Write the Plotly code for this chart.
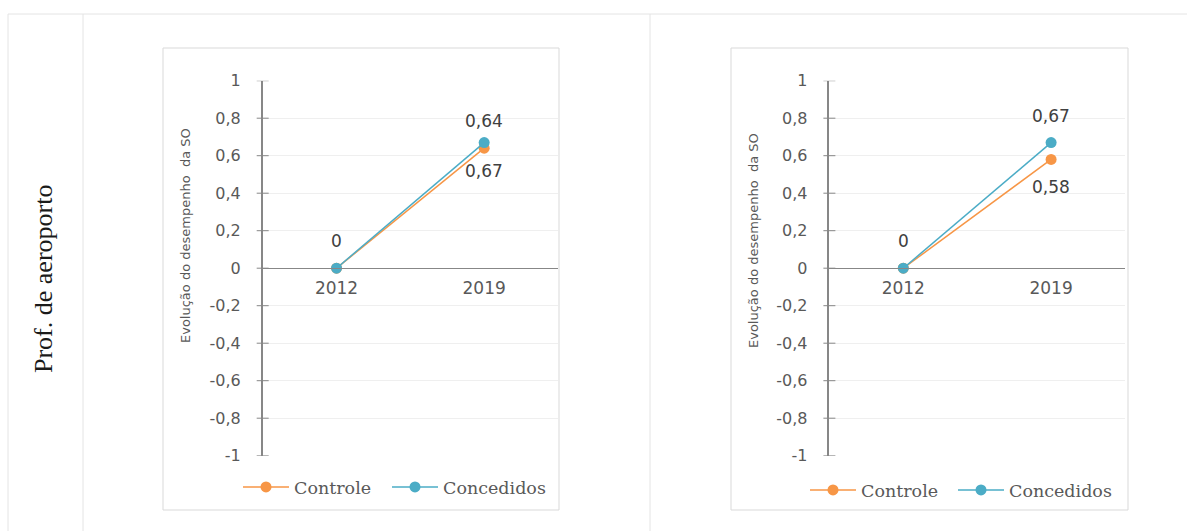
import plotly.graph_objects as go

W, H = 1187, 531

# ---- data -------------------------------------------------------------
years = ["2012", "2019"]
controle_left = [0, 0.64]
concedidos_left = [0, 0.67]
controle_right = [0, 0.58]
concedidos_right = [0, 0.67]

y_tick_values = [1, 0.8, 0.6, 0.4, 0.2, 0, -0.2, -0.4, -0.6, -0.8, -1]
y_tick_labels = ["1", "0,8", "0,6", "0,4", "0,2", "0", "-0,2", "-0,4", "-0,6", "-0,8", "-1"]

series_names = ["Controle", "Concedidos"]
row_label = "Prof. de aeroporto"
y_title = "Evolução do desempenho  da SO"

# ---- styling ----------------------------------------------------------
ORANGE = "#F79646"
BLUE = "#4BACC6"
AXIS_GREY = "#878787"
GRID_GREY = "#efefef"
TABLE_GREY = "#e4e4e4"
BOX_GREY = "#d9d9d9"
TICK_FONT = dict(family="DejaVu Sans", size=16, color="#595959")
LABEL_FONT = dict(family="DejaVu Sans", size=17, color="#404040")
LEGEND_FONT = dict(family="DejaVu Serif", size=17.5, color="#595959")


def px_x(v):
    return v / W


def px_y(v):
    return 1 - v / H


def fmt(v):
    return "0" if v == 0 else f"{v:.2f}".replace(".", ",")


# pixel geometry of the two panels
panels = [
    dict(box=(163, 48, 559, 510), x0=262.7, x1=558.0, ytop=80.7, ybot=455.7,
         title_x=185, title_y=236, legend_x=(238, 387), legend_y=487,
         values=(controle_left, concedidos_left),
         above=0, above_pts=[True, True], below_pts=[False, True]),
    dict(box=(731, 48, 1128, 510), x0=829.4, x1=1125.0, ytop=80.7, ybot=455.7,
         title_x=753, title_y=241, legend_x=(805, 953), legend_y=490,
         values=(controle_right, concedidos_right),
         above=1, above_pts=[True, True], below_pts=[False, True]),
]
colors = (ORANGE, BLUE)

fig = go.Figure()
shapes = []
annotations = []

# table grid lines
shapes.append(dict(type="line", xref="paper", yref="paper",
                   x0=px_x(8), x1=1, y0=px_y(14), y1=px_y(14),
                   line=dict(color=TABLE_GREY, width=1)))
for vx in (8, 83, 650):
    shapes.append(dict(type="line", xref="paper", yref="paper",
                       x0=px_x(vx), x1=px_x(vx), y0=px_y(14), y1=0,
                       line=dict(color=TABLE_GREY, width=1)))

annotations.append(dict(xref="paper", yref="paper", x=px_x(43), y=px_y(279),
                        xanchor="center", yanchor="middle",
                        text=row_label, textangle=-90, showarrow=False,
                        font=dict(family="Liberation Serif", size=26, color="#1a1a1a")))

legend_count = 0
for i, p in enumerate(panels):
    sfx = "" if i == 0 else str(i + 1)
    xa, ya = "x" + sfx, "y" + sfx

    # chart frame
    bx0, by0, bx1, by1 = p["box"]
    shapes.append(dict(type="rect", xref="paper", yref="paper",
                       x0=px_x(bx0), x1=px_x(bx1), y0=px_y(by1), y1=px_y(by0),
                       line=dict(color=BOX_GREY, width=1), fillcolor="white", layer="below"))

    ydom = [px_y(p["ybot"]), px_y(p["ytop"])]
    fig.update_layout(**{
        "xaxis" + sfx: dict(domain=[px_x(p["x0"]), px_x(p["x1"])], type="category",
                            range=[-0.5, 1.5], anchor="free", position=sum(ydom) / 2,
                            showline=True, linecolor=AXIS_GREY, linewidth=1,
                            ticks="", showgrid=False, zeroline=False, automargin=False,
                            tickfont=TICK_FONT | dict(size=17), ticklabelstandoff=4,
                            fixedrange=True),
        "yaxis" + sfx: dict(domain=ydom, range=[-1, 1], anchor=xa,
                            tickvals=y_tick_values, ticktext=y_tick_labels,
                            showgrid=True, gridcolor=GRID_GREY, gridwidth=1,
                            showline=True, linecolor=AXIS_GREY, linewidth=1.5,
                            ticks="", zeroline=False, tickfont=TICK_FONT, automargin=False,
                            ticklabelstandoff=17, fixedrange=True),
    })

    # cross-shaped tick marks on the value axis
    for tv in y_tick_values:
        shapes.append(dict(type="line", xref=xa + " domain", yref=ya,
                           xsizemode="pixel", xanchor=0, x0=-6, x1=6, y0=tv, y1=tv,
                           line=dict(color=AXIS_GREY, width=1)))

    # one legend box per series so each entry sits at its own spot
    for k, (name, vals, color) in enumerate(zip(series_names, p["values"], colors)):
        legend_count += 1
        legend_id = "legend" if legend_count == 1 else f"legend{legend_count}"
        fig.add_trace(go.Scatter(
            x=years, y=vals, name=name, xaxis=xa, yaxis=ya, legend=legend_id,
            mode="lines+markers", line=dict(color=color, width=1.5),
            marker=dict(color=color, size=11), hoverinfo="skip"))
        fig.update_layout(**{legend_id: dict(
            orientation="h", x=px_x(p["legend_x"][k]), xanchor="left",
            y=px_y(p["legend_y"]), yanchor="middle", font=LEGEND_FONT, itemwidth=46,
            bgcolor="rgba(0,0,0,0)", itemclick=False, itemdoubleclick=False)})

    # data labels (category position given by index)
    top_vals = p["values"][p["above"]]
    bot_vals = p["values"][1 - p["above"]]
    for j, (v, show) in enumerate(zip(top_vals, p["above_pts"])):
        if show:
            annotations.append(dict(xref=xa, yref=ya, x=j, y=v, text=fmt(v),
                                    xanchor="center", yanchor="middle",
                                    yshift=27, showarrow=False, font=LABEL_FONT))
    for j, (v, show) in enumerate(zip(bot_vals, p["below_pts"])):
        if show:
            annotations.append(dict(xref=xa, yref=ya, x=j, y=v, text=fmt(v),
                                    xanchor="center", yanchor="middle",
                                    yshift=-28, showarrow=False, font=LABEL_FONT))

    annotations.append(dict(xref="paper", yref="paper", x=px_x(p["title_x"]),
                            y=px_y(p["title_y"]), xanchor="center", yanchor="middle",
                            text=y_title, textangle=-90, showarrow=False,
                            font=dict(family="DejaVu Sans", size=13, color="#595959")))

fig.update_layout(
    width=W, height=H, margin=dict(l=0, r=0, t=0, b=0, autoexpand=False),
    paper_bgcolor="white", plot_bgcolor="rgba(0,0,0,0)",
    shapes=shapes, annotations=annotations, showlegend=True,
)

fig.write_html("out.html")
